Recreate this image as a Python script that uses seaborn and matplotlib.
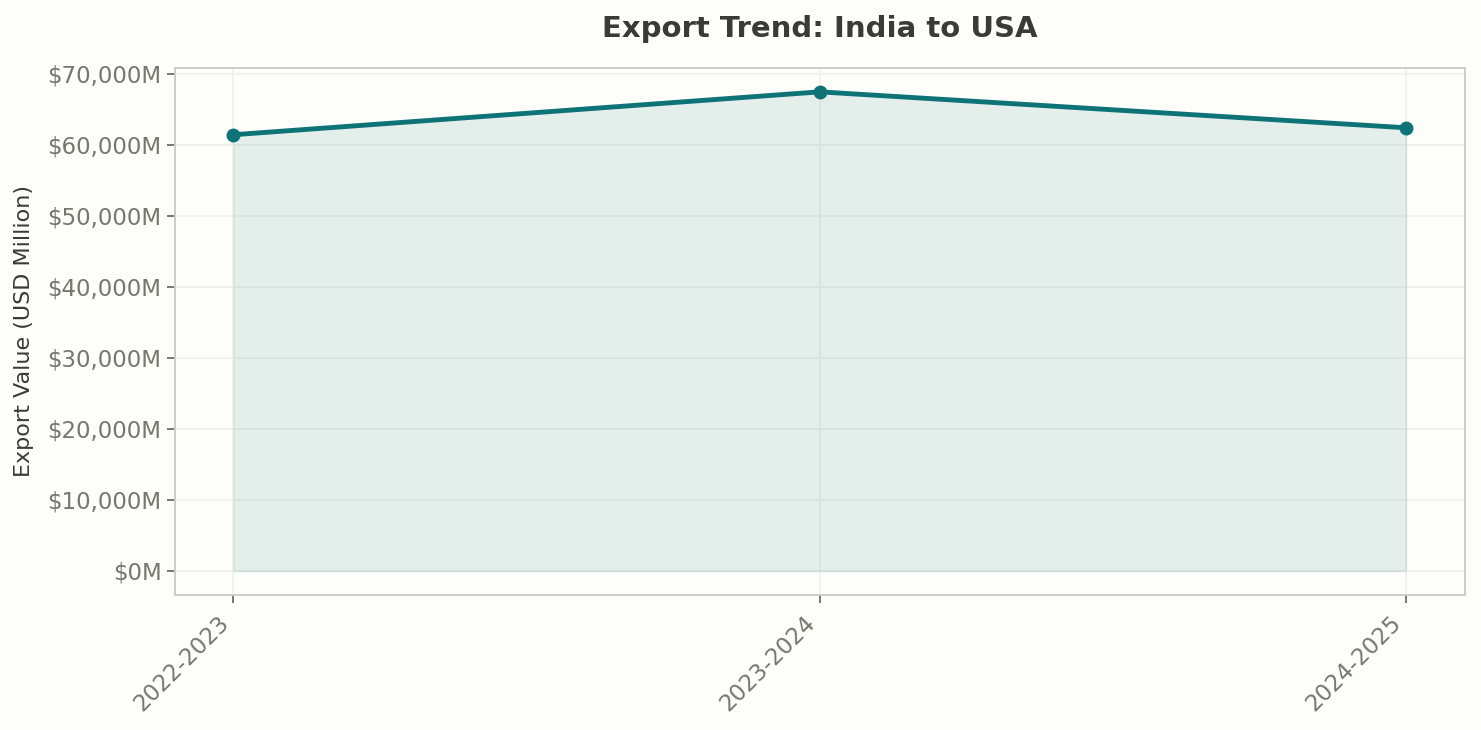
import matplotlib
matplotlib.use("Agg")
import matplotlib.pyplot as plt
import seaborn as sns
import pandas as pd
from matplotlib.ticker import FuncFormatter

# Data
years = ["2022-2023", "2023-2024", "2024-2025"]
export_values = [61430, 67470, 62410]

df = pd.DataFrame({"Year": years, "Export": export_values})

sns.set_style("whitegrid")
plt.rcParams['font.family'] = ['DejaVu Sans']

bg = "#fdfdf9"
teal = "#0e7377"

fig, ax = plt.subplots(figsize=(14.81, 7.3), dpi=100)
fig.patch.set_facecolor(bg)
ax.set_facecolor(bg)

xs = list(range(len(years)))
ax.fill_between(xs, df["Export"], color=teal, alpha=0.1)
sns.lineplot(x=xs, y=df["Export"], ax=ax, color=teal, linewidth=3.5,
             marker="o", markersize=10, markeredgewidth=0)

ax.set_xticks(xs)
ax.set_xticklabels(years, rotation=45, ha="right")
ax.yaxis.set_major_formatter(FuncFormatter(lambda v, p: f"${v:,.0f}M"))

ax.set_title("Export Trend: India to USA", fontsize=21, fontweight="bold",
             color="#3a3a36", pad=22)
ax.set_xlabel("")
ax.set_ylabel("Export Value (USD Million)", fontsize=16, color="#3a3a36",
              labelpad=10)

ax.tick_params(axis="both", labelsize=16.5, labelcolor="#77776f",
               colors="#77776f", length=6, width=1.4, left=True, bottom=True)
ax.tick_params(axis="x", pad=6)
ax.grid(True, color="#efefeb", linewidth=1.2)
for s in ax.spines.values():
    s.set_color("#cccccc")
    s.set_linewidth(1.4)

fig.subplots_adjust(left=0.118, right=0.989, top=0.907, bottom=0.185)
fig.savefig("out.png", dpi=100, facecolor=bg)
